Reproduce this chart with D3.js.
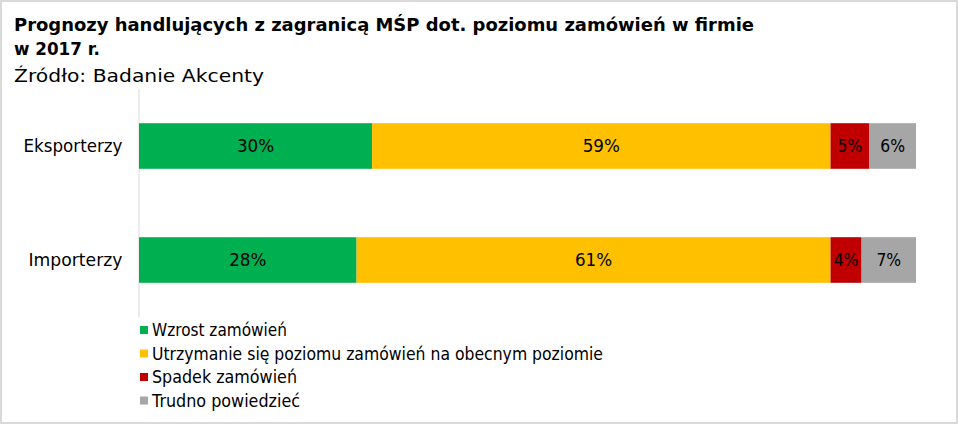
<!DOCTYPE html>
<html>
<head>
<meta charset="utf-8">
<script src="https://cdn.jsdelivr.net/npm/d3@7"></script>
<style>
  body { margin: 0; background: #fff; }
  svg text { font-family: "DejaVu Sans", sans-serif; fill: #000; }
</style>
</head>
<body>
<div id="chart"></div>
<script>
// chart data
var categories = ["Eksporterzy", "Importerzy"];
var seriesNames = [
    "Wzrost zamówień",
    "Utrzymanie się poziomu zamówień na obecnym poziomie",
    "Spadek zamówień",
    "Trudno powiedzieć"
];
var wzrost = [30, 28];
var utrzymanie = [59, 61];
var spadek = [5, 4];
var trudno = [6, 7];
var colors = ["#00b050", "#ffc000", "#c00000", "#a6a6a6"];

var width = 958, height = 424;

var svg = d3.select("#chart").append("svg")
    .attr("width", width)
    .attr("height", height);

// squeeze a text node to the width it has in the reference
function fit(sel, w) {
    sel.attr("textLength", w).attr("lengthAdjust", "spacingAndGlyphs");
}

// outer border
svg.append("rect")
    .attr("x", 1)
    .attr("y", 1)
    .attr("width", width - 2)
    .attr("height", height - 2)
    .style("fill", "#fff")
    .style("stroke", "#d9d9d9")
    .style("stroke-width", "2px");

// title
svg.append("text")
    .attr("x", 14).attr("y", 31)
    .text("Prognozy handlujących z zagranicą MŚP dot. poziomu zamówień w firmie")
    .style("font-size", "18px")
    .style("font-weight", "bold")
    .call(fit, 740);

svg.append("text")
    .attr("x", 14).attr("y", 55)
    .text("w 2017 r.")
    .style("font-size", "18px")
    .style("font-weight", "bold")
    .call(fit, 86);

svg.append("text")
    .attr("x", 14).attr("y", 82)
    .text("Źródło: Badanie Akcenty")
    .style("font-size", "18px")
    .call(fit, 250);

// table for the stack
var rows = categories.map(function(c, i) {
    return { cat: c, s0: wzrost[i], s1: utrzymanie[i], s2: spadek[i], s3: trudno[i] };
});
var keys = ["s0", "s1", "s2", "s3"];
var stacked = d3.stack().keys(keys)(rows);

var x = d3.scaleLinear().domain([0, 100]).range([139, 916]);
var y = d3.scaleBand().domain(categories).range([89, 317])
    .paddingInner(0.6).paddingOuter(0.3);

// category axis
var yAxis = svg.append("g")
    .attr("transform", "translate(138.5,0)")
    .call(d3.axisLeft(y).tickSize(0).tickPadding(16));
yAxis.select(".domain").style("stroke", "#d9d9d9").style("stroke-width", "1px");
yAxis.selectAll("text")
    .style("font-size", "18px")
    .style("font-family", "DejaVu Sans, sans-serif")
    .style("fill", "#000")
    .attr("dy", "0.35em")
    .each(function(d) {
        d3.select(this).call(fit, d === "Eksporterzy" ? 99 : 94);
    });

// bars
var layer = svg.append("g").selectAll("g")
    .data(stacked)
    .join("g")
    .style("fill", function(d, i) { return colors[i]; });

layer.selectAll("rect")
    .data(function(d) { return d; })
    .join("rect")
    .attr("x", function(d) { return x(d[0]); })
    .attr("y", function(d) { return y(d.data.cat); })
    .attr("width", function(d) { return x(d[1]) - x(d[0]); })
    .attr("height", y.bandwidth());

// value labels
layer.selectAll("text")
    .data(function(d) { return d; })
    .join("text")
    .attr("x", function(d) { return (x(d[0]) + x(d[1])) / 2; })
    .attr("y", function(d) { return y(d.data.cat) + y.bandwidth() / 2; })
    .attr("dy", "0.36em")
    .attr("text-anchor", "middle")
    .text(function(d) { return (d[1] - d[0]) + "%"; })
    .style("font-size", "18px")
    .style("fill", "#000")
    .each(function(d) {
        var t = (d[1] - d[0]) + "%";
        d3.select(this).call(fit, t.length * 12.4);
    });

// legend
var legendW = [135, 451, 145, 148];
var legend = svg.append("g").selectAll("g")
    .data(seriesNames)
    .join("g")
    .attr("transform", function(d, i) { return "translate(140," + (330 + i * 23.5) + ")"; });

legend.append("rect")
    .attr("x", 0)
    .attr("y", -4)
    .attr("width", 8)
    .attr("height", 8)
    .style("fill", function(d, i) { return colors[i]; });

legend.append("text")
    .attr("x", 12)
    .attr("y", 0)
    .attr("dy", "0.35em")
    .text(function(d) { return d; })
    .style("font-size", "18px")
    .each(function(d, i) { d3.select(this).call(fit, legendW[i]); });
</script>
</body>
</html>
